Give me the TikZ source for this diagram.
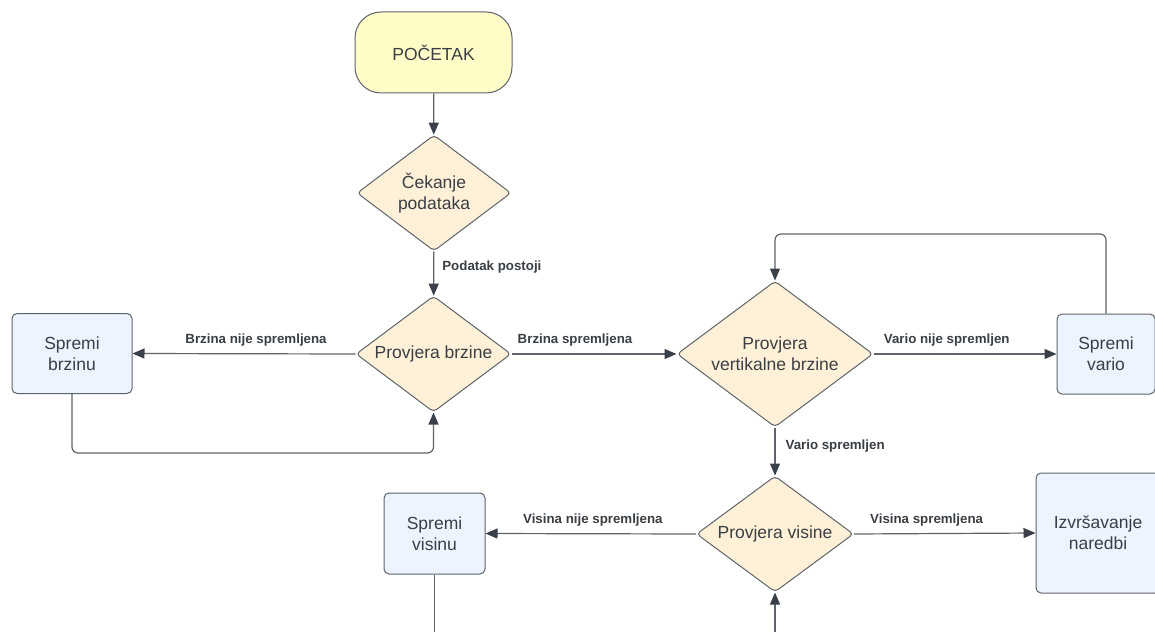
\documentclass[tikz,border=0pt]{standalone}
\usepackage{fontspec}
\setmainfont{Liberation Sans}
\usetikzlibrary{shapes.geometric,arrows.meta}
\definecolor{strokec}{HTML}{5F646B}
\definecolor{arrowc}{HTML}{394049}
\definecolor{textc}{HTML}{3A3F45}
\definecolor{startfill}{HTML}{FFFCC8}
\definecolor{decfill}{HTML}{FFF0D8}
\definecolor{boxfill}{HTML}{EDF4FF}
\tikzset{
  startbox/.style={draw=strokec, line width=1pt, fill=startfill, rounded corners=26pt,
    minimum width=157pt, minimum height=81pt, inner sep=0pt, text=textc, font=\fontsize{17.5}{21}\selectfont},
  decision/.style={draw=strokec, line width=1pt, fill=decfill, diamond, rounded corners=4pt,
    inner xsep=-30pt, inner ysep=-20pt, text=textc, align=center, font=\fontsize{17.5}{21}\selectfont},
  procbox/.style={draw=strokec, line width=1pt, fill=boxfill, rounded corners=5pt,
    inner sep=0pt, text=textc, align=center, font=\fontsize{17.5}{21}\selectfont},
  conn/.style={draw=strokec, line width=1.2pt, rounded corners=6pt, -{Triangle[length=12pt,width=10pt,color=arrowc]}},
  plainconn/.style={draw=strokec, line width=1.2pt, rounded corners=6pt},
  lbl/.style={font=\bfseries\fontsize{13.3}{15}\selectfont, text=textc, inner sep=0pt}
}
\begin{document}
\begin{tikzpicture}[x=1pt,y=-1pt]
\useasboundingbox (0,0) rectangle (1155,631);
\clip (0,0) rectangle (1155,631);
\fill[white] (0,0) rectangle (1155,631);

\node[startbox] (start) at (433.5,52.5) {POČETAK};
\node[decision, minimum width=154pt, minimum height=116pt] (wait) at (434,193) {Čekanje\\podataka};
\node[decision, minimum width=155pt, minimum height=116pt] (pb) at (433.5,354) {Provjera brzine};
\node[procbox, minimum width=120pt, minimum height=80pt] (sb) at (72,353.5) {Spremi\\brzinu};
\node[decision, minimum width=196pt, minimum height=146pt] (pvb) at (775,354) {Provjera\\vertikalne brzine};
\node[procbox, minimum width=98pt, minimum height=80pt] (sv) at (1106,354) {Spremi\\vario};
\node[decision, minimum width=157pt, minimum height=116pt] (pv) at (775,534) {Provjera visine};
\node[procbox, minimum width=101pt, minimum height=81pt] (svis) at (434.5,533.5) {Spremi\\visinu};
\node[procbox, minimum width=124pt, minimum height=120pt] (izv) at (1098,533) {Izvršavanje\\naredbi};

\coordinate (svisend) at (434.5,645);
\coordinate (pvstart) at (775,645);

\draw[conn] (start) -- (wait);
\draw[conn] (wait) -- node[lbl, pos=0.36, anchor=west, xshift=8pt] {Podatak postoji} (pb);
\draw[conn] (pb.west) -- node[lbl, pos=0.446, above=7pt] {Brzina nije spremljena} (sb.east);
\draw[conn] (sb.south) -- (72,453) -- (433.5,453) -- (pb.south);
\draw[conn] (pb.east) -- node[lbl, pos=0.385, above=7pt] {Brzina spremljena} (pvb.west);
\draw[conn] (pvb.east) -- node[lbl, pos=0.40, above=7pt] {Vario nije spremljen} (sv.west);
\draw[conn] (sv.north) -- (1106,234) -- (775,234) -- (pvb.north);
\draw[conn] (pvb.south) -- node[lbl, pos=0.39, anchor=west, xshift=10pt] {Vario spremljen} (pv.north);
\draw[conn] (pv.west) -- node[lbl, pos=0.49, above=7pt] {Visina nije spremljena} (svis.east);
\draw[conn] (pv.east) -- node[lbl, pos=0.40, above=7pt] {Visina spremljena} (izv.west);
\draw[plainconn] (svis.south) -- (svisend);
\draw[conn] (pvstart) -- (pv.south);
\end{tikzpicture}
\end{document}
